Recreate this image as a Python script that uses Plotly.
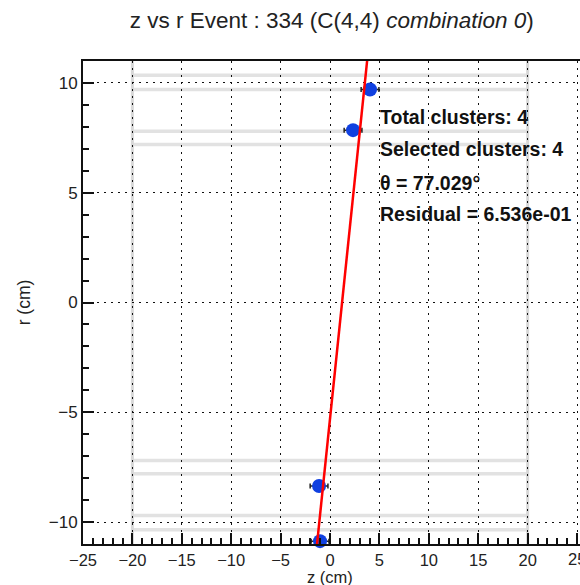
import numpy as np
import plotly.graph_objects as go

# data
z_pts = [4.05, 2.33, -1.11, -1.01]
r_pts = [9.70, 7.85, -8.36, -10.87]
z_err = [0.9, 0.9, 0.9, 0.9]
theta_deg = 77.029
z_intercept = 1.22  # z at r = 0 of the fitted line
layer_r = [7.2, 7.8, 9.7, 10.35]
layer_z = [-20, 20]
info_lines = ["<b>Total clusters: 4</b>", "<b>Selected clusters: 4</b>",
              "<b>θ = 77.029°</b>", "<b>Residual = 6.536e-01</b>"]
info_r = [8.45, 6.99, 5.43, 4.02]
info_z = 4.86

FONT = "Liberation Sans, Arial, Helvetica, sans-serif"

fig = go.Figure()

shapes = []
for rr in layer_r:
    for s in (1, -1):
        shapes.append(dict(type="line", xref="x", yref="y", x0=layer_z[0], x1=layer_z[1],
                           y0=s * rr, y1=s * rr, line=dict(color="#e2e2e2", width=3.5),
                           layer="below"))
for zz in layer_z:
    shapes.append(dict(type="line", xref="x", yref="y", x0=zz, x1=zz, y0=-11, y1=11,
                       line=dict(color="#d8d8d8", width=3), layer="below"))

fig.add_trace(go.Scatter(
    x=z_pts, y=r_pts, mode="markers",
    marker=dict(color="#1040e0", size=14, line=dict(width=0)),
    error_x=dict(type="data", array=z_err, color="#222", thickness=1.5, width=2.5),
    cliponaxis=False, showlegend=False))

slope = 1.0 / np.tan(np.radians(theta_deg))
r_line = np.array([-12.0, 12.0])
z_line = z_intercept + slope * r_line
fig.add_trace(go.Scatter(x=z_line, y=r_line, mode="lines",
                         line=dict(color="#ff0000", width=2.5), showlegend=False))

for t, rr in zip(info_lines, info_r):
    fig.add_annotation(x=info_z, y=rr, xref="x", yref="y", text=t, showarrow=False,
                       xanchor="left", yanchor="middle",
                       font=dict(family=FONT, size=19.5, color="#111"))

# right-most tick label, cut by the page edge as in the reference
fig.add_annotation(x=25, y=0, xref="x", yref="paper", yshift=-4, text="25", showarrow=False,
                   xanchor="center", yanchor="top",
                   font=dict(family=FONT, size=16.5, color="#222"))

# x axis title placed explicitly below tick labels
fig.add_annotation(x=0, y=0, xref="x", yref="paper", yshift=-33, text="z (cm)", showarrow=False,
                   xanchor="center", yanchor="middle",
                   font=dict(family=FONT, size=16.5, color="#222"))

fig.update_layout(
    width=580, height=585,
    margin=dict(l=83, r=0, t=61, b=41, autoexpand=False),
    paper_bgcolor="white", plot_bgcolor="white",
    shapes=shapes,
    title=dict(text="z vs r Event : 334 (C(4,4) <i>combination 0</i>)",
               x=0.572, xanchor="center", y=0.966, yanchor="middle",
               font=dict(family=FONT, size=22.5, color="#222")),
    font=dict(family=FONT, size=16.5, color="#222"),
)
fig.update_xaxes(range=[-25, 25.3], tickmode="linear", tick0=-25, dtick=5,
                 ticks="inside", ticklen=11, tickwidth=1.5, tickcolor="#111",
                 minor=dict(ticks="inside", ticklen=6, dtick=1, tick0=-25, tickcolor="#111", showgrid=False),
                 showgrid=True, gridcolor="#111", griddash="2px,5px", gridwidth=1.3,
                 showline=True, linecolor="#111", linewidth=2, mirror=True,
                 zeroline=False, automargin=False,
                 tickfont=dict(family=FONT, size=16.5))
fig.update_yaxes(range=[-11, 11], tickmode="linear", tick0=-10, dtick=5,
                 ticks="inside", ticklen=11, tickwidth=1.5, tickcolor="#111",
                 minor=dict(ticks="inside", ticklen=6, dtick=1, tick0=-11, tickcolor="#111", showgrid=False),
                 showgrid=True, gridcolor="#111", griddash="2px,5px", gridwidth=1.3,
                 showline=True, linecolor="#111", linewidth=2, mirror=False,
                 zeroline=False, automargin=False,
                 title=dict(text="r (cm)", standoff=14, font=dict(family=FONT, size=17.5)),
                 tickfont=dict(family=FONT, size=17))

fig.write_html("out.html")
